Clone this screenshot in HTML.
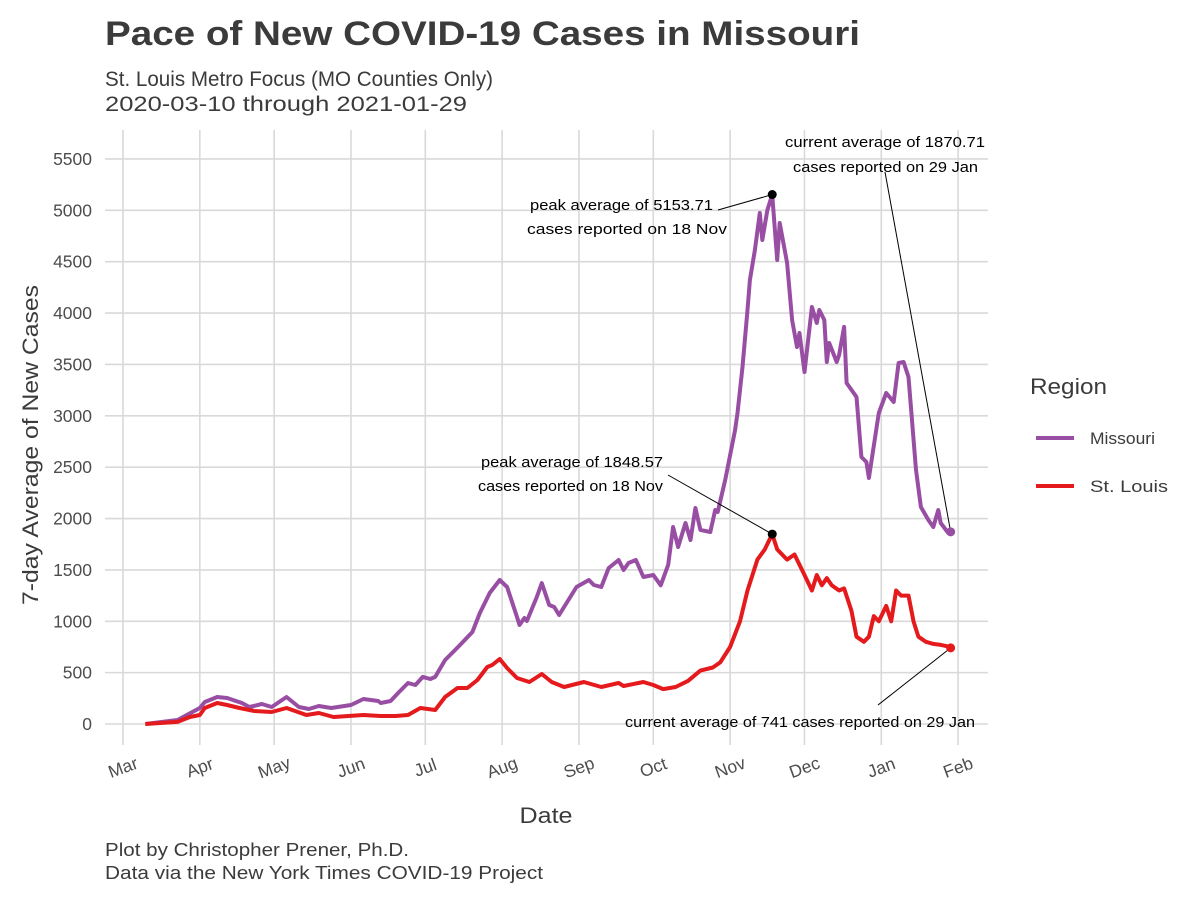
<!DOCTYPE html>
<html><head><meta charset="utf-8"><style>
body{margin:0;background:#fff;font-family:"Liberation Sans",sans-serif;}
svg text{font-family:"Liberation Sans",sans-serif;}
</style></head><body>
<svg id="chart" width="1200" height="900">
<text x="105" y="45" font-size="34" font-weight="bold" fill="#3b3b3b" textLength="755" lengthAdjust="spacingAndGlyphs">Pace of New COVID-19 Cases in Missouri</text>
<text x="105" y="86" font-size="21" fill="#3b3b3b" textLength="388" lengthAdjust="spacingAndGlyphs">St. Louis Metro Focus (MO Counties Only)</text>
<text x="105" y="111" font-size="21" fill="#3b3b3b" textLength="362" lengthAdjust="spacingAndGlyphs">2020-03-10 through 2021-01-29</text>
<g id="grid"></g>
<g id="yaxis"></g>
<g id="xaxis"></g>
<g id="series"></g>
<g id="annot"></g>
<text transform="translate(38,445) rotate(-90)" text-anchor="middle" font-size="22" fill="#3b3b3b" textLength="320" lengthAdjust="spacingAndGlyphs">7-day Average of New Cases</text>
<text x="546" y="823" text-anchor="middle" font-size="22" fill="#3b3b3b" textLength="53" lengthAdjust="spacingAndGlyphs">Date</text>
<g>
<text x="1030" y="394" font-size="22" fill="#3b3b3b" textLength="77" lengthAdjust="spacingAndGlyphs">Region</text>
<line x1="1036" y1="438" x2="1074" y2="438" stroke="#984ea3" stroke-width="4"/>
<text x="1090" y="444" font-size="17" fill="#3b3b3b" textLength="65" lengthAdjust="spacingAndGlyphs">Missouri</text>
<line x1="1036" y1="486" x2="1074" y2="486" stroke="#e41a1c" stroke-width="4"/>
<text x="1090" y="492" font-size="17" fill="#3b3b3b" textLength="78" lengthAdjust="spacingAndGlyphs">St. Louis</text>
</g>
<text x="105" y="856" font-size="18" fill="#3b3b3b" textLength="304" lengthAdjust="spacingAndGlyphs">Plot by Christopher Prener, Ph.D.</text>
<text x="105" y="879" font-size="18" fill="#3b3b3b" textLength="438" lengthAdjust="spacingAndGlyphs">Data via the New York Times COVID-19 Project</text>
</svg>
<script>
const yTicks = [0,500,1000,1500,2000,2500,3000,3500,4000,4500,5000,5500];
const monthTicks = ["2020-03-01","2020-04-01","2020-05-01","2020-06-01","2020-07-01","2020-08-01","2020-09-01","2020-10-01","2020-11-01","2020-12-01","2021-01-01","2021-02-01"];
const monthLabels = ["Mar","Apr","May","Jun","Jul","Aug","Sep","Oct","Nov","Dec","Jan","Feb"];
const moDates = ["2020-03-10","2020-03-23","2020-04-01","2020-04-03","2020-04-08","2020-04-12","2020-04-18","2020-04-21","2020-04-26","2020-04-30","2020-05-06","2020-05-11","2020-05-15","2020-05-19","2020-05-24","2020-06-01","2020-06-06","2020-06-12","2020-06-13","2020-06-17","2020-06-20","2020-06-24","2020-06-27","2020-06-30","2020-07-03","2020-07-05","2020-07-09","2020-07-13","2020-07-15","2020-07-20","2020-07-23","2020-07-27","2020-07-31","2020-08-03","2020-08-07","2020-08-08","2020-08-10","2020-08-11","2020-08-15","2020-08-17","2020-08-20","2020-08-22","2020-08-24","2020-08-31","2020-09-05","2020-09-07","2020-09-10","2020-09-13","2020-09-17","2020-09-19","2020-09-21","2020-09-24","2020-09-27","2020-10-01","2020-10-04","2020-10-07","2020-10-09","2020-10-11","2020-10-14","2020-10-16","2020-10-18","2020-10-20","2020-10-24","2020-10-26","2020-10-27","2020-10-30","2020-11-03","2020-11-04","2020-11-06","2020-11-08","2020-11-09","2020-11-11","2020-11-13","2020-11-14","2020-11-16","2020-11-18","2020-11-20","2020-11-21","2020-11-24","2020-11-26","2020-11-28","2020-11-29","2020-12-01","2020-12-04","2020-12-06","2020-12-07","2020-12-09","2020-12-10","2020-12-11","2020-12-14","2020-12-15","2020-12-17","2020-12-18","2020-12-22","2020-12-24","2020-12-26","2020-12-27","2020-12-31","2021-01-03","2021-01-06","2021-01-08","2021-01-10","2021-01-12","2021-01-15","2021-01-17","2021-01-20","2021-01-22","2021-01-24","2021-01-25","2021-01-28","2021-01-29"];
const moValues = [0,39,156,214,263,253,204,165,195,165,263,165,146,175,156,185,243,224,204,224,302,399,380,458,438,458,623,720,769,896,1080,1275,1402,1334,1042,964,1032,1003,1236,1372,1158,1139,1061,1334,1402,1353,1334,1519,1596,1499,1567,1596,1431,1450,1350,1550,1918,1723,1957,1791,2103,1889,1869,2083,2064,2375,2862,3027,3475,4030,4322,4614,4974,4711,5000,5153.71,4517,4877,4488,3933,3670,3806,3426,4059,3903,4030,3933,3524,3709,3524,3592,3865,3319,3183,2599,2550,2395,3027,3222,3134,3514,3524,3378,2473,2112,1986,1918,2083,1957,1860,1870.71];
const stlDates = ["2020-03-10","2020-03-23","2020-03-28","2020-04-01","2020-04-03","2020-04-08","2020-04-12","2020-04-17","2020-04-23","2020-04-30","2020-05-06","2020-05-14","2020-05-19","2020-05-25","2020-06-06","2020-06-13","2020-06-19","2020-06-24","2020-06-29","2020-07-05","2020-07-09","2020-07-14","2020-07-18","2020-07-22","2020-07-26","2020-07-28","2020-07-31","2020-08-03","2020-08-07","2020-08-12","2020-08-17","2020-08-21","2020-08-26","2020-09-03","2020-09-10","2020-09-17","2020-09-19","2020-09-27","2020-10-01","2020-10-05","2020-10-10","2020-10-15","2020-10-20","2020-10-25","2020-10-28","2020-11-01","2020-11-05","2020-11-08","2020-11-12","2020-11-15","2020-11-18","2020-11-20","2020-11-22","2020-11-24","2020-11-27","2020-12-01","2020-12-04","2020-12-06","2020-12-08","2020-12-10","2020-12-12","2020-12-15","2020-12-17","2020-12-20","2020-12-22","2020-12-25","2020-12-27","2020-12-29","2020-12-31","2021-01-03","2021-01-05","2021-01-07","2021-01-09","2021-01-12","2021-01-14","2021-01-16","2021-01-19","2021-01-22","2021-01-25","2021-01-27","2021-01-29"];
const stlValues = [0,20,68,88,156,204,185,156,127,117,156,88,107,68,88,78,78,88,156,136,263,350,350,428,555,574,633,545,448,409,487,409,360,409,360,399,370,409,380,340,360,420,520,550,600,750,1000,1300,1600,1700,1848.57,1700,1650,1600,1650,1450,1300,1450,1350,1420,1350,1300,1320,1100,850,800,850,1050,1000,1150,1000,1300,1250,1250,1000,850,800,780,770,760,741];

const NS="http://www.w3.org/2000/svg";
const t0=Date.UTC(2020,2,1);
function day(s){const p=s.split("-");return (Date.UTC(+p[0],+p[1]-1,+p[2])-t0)/86400000;}
function xs(s){return 123+day(s)*2.478;}
function ys(v){return 724-v*0.10273;}
function mk(tag,attrs,parent){const e=document.createElementNS(NS,tag);for(const k in attrs)e.setAttribute(k,attrs[k]);parent.appendChild(e);return e;}
const grid=document.getElementById('grid'),ya=document.getElementById('yaxis'),xa=document.getElementById('xaxis');
yTicks.forEach(v=>{
  const l=mk('line',{x1:105,x2:988,y1:ys(v),y2:ys(v),stroke:'#d9d9d9','stroke-width':1.6},grid);
  
  
  const t=mk('text',{x:92,y:ys(v)+6,'text-anchor':'end','font-size':17.5,fill:'#4d4d4d'},ya);
  t.textContent=v;
  
  
});
monthTicks.forEach((d,i)=>{
  const x=xs(d);
  const l=mk('line',{x1:x,x2:x,y1:130,y2:745,stroke:'#d9d9d9','stroke-width':1.6},grid);
  
  
  const t=mk('text',{transform:`translate(${x+2},${773}) rotate(-20)`,'text-anchor':'middle','font-size':17.5,fill:'#4d4d4d'},xa);
  t.textContent=monthLabels[i];
  
  
});
const ser=document.getElementById('series');
function line(dates,vals,color,name){
  const pts=dates.map((d,i)=>xs(d).toFixed(1)+','+ys(vals[i]).toFixed(1)).join(' ');
  const p=mk('polyline',{points:pts,fill:'none',stroke:color,'stroke-width':4,'stroke-linejoin':'round'},ser);
  
  
}
line(moDates,moValues,'#984ea3','missouri-line');
line(stlDates,stlValues,'#e41a1c','st-louis-line');
const an=document.getElementById('annot');
function dot(d,v,c,name){const e=mk('circle',{cx:xs(d),cy:ys(v),r:4.5,fill:c},an);
  
  }
function txt(x,y,s,len,name){const e=mk('text',{x:x,y:y,'font-size':15,fill:'#000',textLength:len,lengthAdjust:'spacingAndGlyphs'},an);e.textContent=s;
  
  }
function seg(x1,y1,x2,y2,name){const e=mk('line',{x1,y1,x2,y2,stroke:'#000','stroke-width':1},an);
  
  }
const moPeakI=moValues.indexOf(5153.71), stPeakI=stlValues.indexOf(1848.57);
const moL=moDates.length-1, stL=stlDates.length-1;
seg(718,210,xs(moDates[moPeakI]),ys(moValues[moPeakI]),'mo-peak-leader');
seg(668,475,xs(stlDates[stPeakI]),ys(stlValues[stPeakI]),'stl-peak-leader');
seg(885,172,xs(moDates[moL]),ys(moValues[moL]),'mo-current-leader');
seg(878,705,xs(stlDates[stL]),ys(stlValues[stL]),'stl-current-leader');
dot(moDates[moL],moValues[moL],'#984ea3','mo-current-point');
dot(stlDates[stL],stlValues[stL],'#e41a1c','stl-current-point');
dot(moDates[moPeakI],moValues[moPeakI],'#000','mo-peak-point');
dot(stlDates[stPeakI],stlValues[stPeakI],'#000','stl-peak-point');
txt(530,210,'peak average of 5153.71',183,'mo-peak-label-1');
txt(527,234,'cases reported on 18 Nov',200,'mo-peak-label-2');
txt(481,467,'peak average of 1848.57',182,'stl-peak-label-1');
txt(478,491,'cases reported on 18 Nov',185,'stl-peak-label-2');
txt(785,147,'current average of 1870.71',200,'mo-current-label-1');
txt(793,172,'cases reported on 29 Jan',185,'mo-current-label-2');
txt(625,727,'current average of 741 cases reported on 29 Jan',350,'stl-current-label');
</script>
</body></html>
